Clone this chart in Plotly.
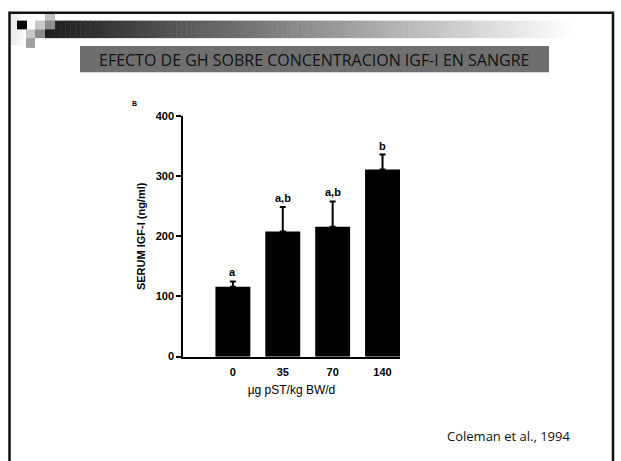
import plotly.graph_objects as go

W, H = 621, 461

categories = ["0", "35", "70", "140"]
values = [116, 208, 216, 311]
errors = [9, 41, 42, 25]
letters = ["a", "a,b", "a,b", "b"]
y_ticks = [0, 100, 200, 300, 400]

title_text = "EFECTO DE GH SOBRE CONCENTRACION IGF-I EN SANGRE"
citation = "Coleman et al., 1994"


def px(x):
    return x / W


def py(y):
    return 1 - y / H


fig = go.Figure()
fig.add_trace(go.Bar(
    x=categories, y=values, width=0.7,
    marker=dict(color="black", line=dict(width=0)),
    error_y=dict(type="data", array=errors, arrayminus=[0] * len(errors),
                 symmetric=False, color="black", thickness=2, width=3),
    showlegend=False, hoverinfo="skip",
))

annotations = []
for i, (v, e, t) in enumerate(zip(values, errors, letters)):
    annotations.append(dict(x=i, y=v + e, xref="x", yref="y", text=t,
                            showarrow=False, yanchor="bottom", yshift=1,
                            font=dict(family="Liberation Sans", size=11, color="black", weight="bold")))

annotations.append(dict(x=px(97), y=py(55), xref="paper", yref="paper", text=title_text,
                        showarrow=False, xanchor="left", yanchor="middle",
                        font=dict(family="Open Sans", size=16, color="#111111")))
annotations.append(dict(x=px(445), y=py(442), xref="paper", yref="paper", text=citation,
                        showarrow=False, xanchor="left", yanchor="middle",
                        font=dict(family="Open Sans", size=13, color="#111111")))
annotations.append(dict(x=px(130), y=py(100), xref="paper", yref="paper", text="B",
                        showarrow=False, xanchor="left", yanchor="middle",
                        font=dict(family="Liberation Sans", size=7, color="black", weight="bold")))

shapes = []
# faint left gradient inside frame
for i in range(8):
    g = 232 + i * 3
    shapes.append(dict(type="rect", xref="paper", yref="paper", layer="below",
                       x0=px(10 + i * 2), x1=px(12 + i * 2), y0=py(40), y1=py(8),
                       fillcolor=f"rgb({g},{g},{g})", line=dict(width=0)))
# dark-to-white gradient bar
n = 110
x_start, x_end = 45, 600
for i in range(n):
    f = i / (n - 1)
    g = int(30 + (255 - 30) * min(1, f * 1.05))
    x0 = x_start + (x_end - x_start) * i / n
    x1 = x_start + (x_end - x_start) * (i + 1) / n + 0.5
    shapes.append(dict(type="rect", xref="paper", yref="paper", layer="below",
                       x0=px(x0), x1=px(x1), y0=py(33), y1=py(15),
                       fillcolor=f"rgb({g},{g},{g})", line=dict(width=0)))
# decorative squares
squares = [
    (17, 15, 27, 24, "#000000"),
    (35, 15, 45, 24, "#c8c8c8"),
    (45, 8, 55, 15, "#c4c4c4"),
    (45, 15, 55, 24, "#8e8e8e"),
    (26, 24, 35, 33, "#c8c8c8"),
    (35, 24, 45, 33, "#8c8c8c"),
    (26, 33, 35, 43, "#a0a0a0"),
]
for x0, y0, x1, y1, col in squares:
    shapes.append(dict(type="rect", xref="paper", yref="paper", layer="below",
                       x0=px(x0), x1=px(x1), y0=py(y1), y1=py(y0),
                       fillcolor=col, line=dict(width=0)))
# title box
shapes.append(dict(type="rect", xref="paper", yref="paper", layer="below",
                   x0=px(80), x1=px(549), y0=py(68), y1=py(41),
                   fillcolor="#6f6f6f", line=dict(width=0)))
# slide frame
shapes.append(dict(type="rect", xref="paper", yref="paper", layer="above",
                   x0=px(9.5), x1=px(613), y0=py(475), y1=py(7),
                   line=dict(color="#111111", width=2.5)))

fig.update_layout(
    width=W, height=H, autosize=False,
    margin=dict(l=0, r=0, t=0, b=0),
    paper_bgcolor="white", plot_bgcolor="white",
    bargap=0.3,
    annotations=annotations,
    shapes=shapes,
    xaxis=dict(domain=[px(183), px(400)], range=[-1.0, 3.35], type="category",
               showline=True, linecolor="black", linewidth=1.5,
               ticks="", showgrid=False, zeroline=False, ticklabelstandoff=4,
               tickfont=dict(family="Liberation Sans", size=11, color="black", weight="bold"),
               title=dict(text="µg pST/kg BW/d", standoff=9,
                          font=dict(family="Liberation Sans", size=12, color="black"))),
    yaxis=dict(domain=[py(360), py(113)], range=[0, 400], tickvals=y_ticks,
               showline=True, linecolor="black", linewidth=1.5,
               ticks="outside", ticklen=5, tickwidth=1.5, tickcolor="black",
               showgrid=False, zeroline=False,
               tickfont=dict(family="Liberation Sans", size=11, color="black", weight="bold"),
               title=dict(text="SERUM IGF-I (ng/ml)", standoff=8,
                          font=dict(family="Liberation Sans", size=11, color="black", weight="bold"))),
)

fig.write_html("out.html")
